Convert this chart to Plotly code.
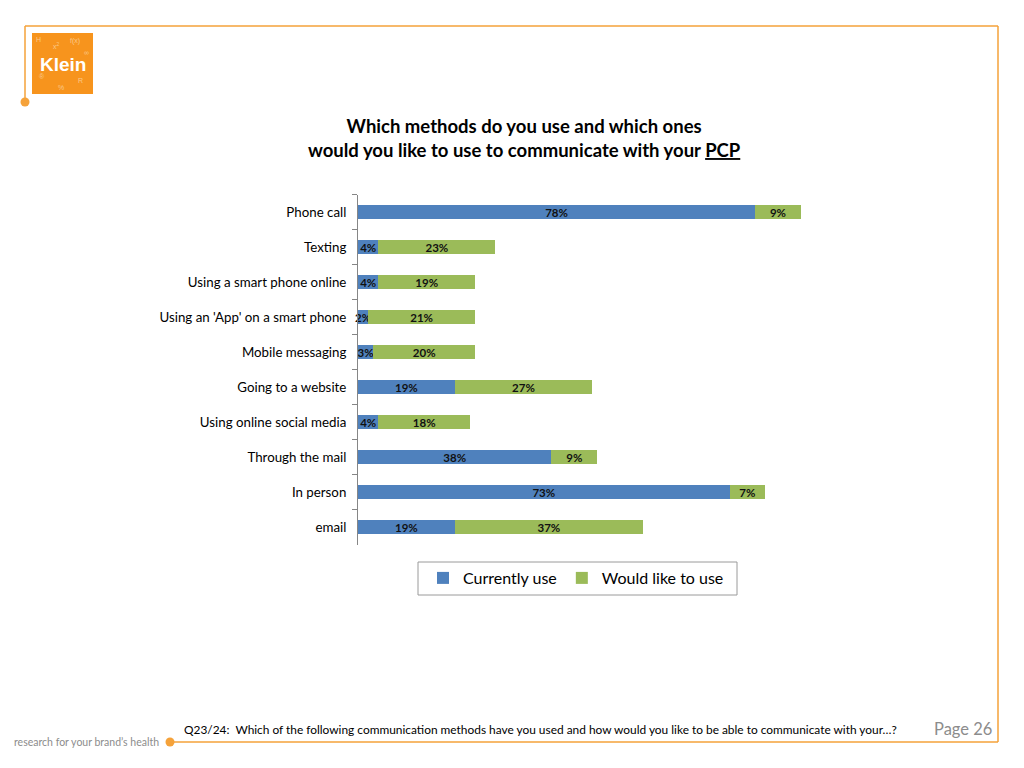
import plotly.graph_objects as go

# data
categories = ["Phone call", "Texting", "Using a smart phone online",
              "Using an 'App' on a smart phone", "Mobile messaging",
              "Going to a website", "Using online social media",
              "Through the mail", "In person", "email"]
currently_use = [78, 4, 4, 2, 3, 19, 4, 38, 73, 19]
would_like = [9, 23, 19, 21, 20, 27, 18, 9, 7, 37]

# the page body adds an 8px margin, so the figure is a bit smaller and offset
OFF = 8
W, H = 1024 - 2 * OFF, 768 - 2 * OFF
FONT = "Lato"
ORANGE = "#F5A23A"
BLUE = "#4F81BD"
GREEN = "#9BBB59"


def px(x):
    return (x - OFF) / W


def py(y):
    return 1 - (y - OFF) / H


fig = go.Figure()

for name, vals, col in [("Currently use", currently_use, BLUE),
                        ("Would like to use", would_like, GREEN)]:
    fig.add_trace(go.Bar(
        y=categories, x=vals, name=name, orientation="h",
        marker=dict(color=col, line=dict(width=0)),
        text=[f"{v}%" for v in vals],
        textposition="inside", insidetextanchor="middle",
        textangle=0, constraintext="none",
        textfont=dict(family=FONT, size=11.5, color="#111111", weight="bold"),
        cliponaxis=False, width=0.4,
    ))

P = dict(xref="paper", yref="paper")
shapes = [
    # page frame
    dict(type="line", x0=px(25), y0=py(26), x1=px(998), y1=py(26)),
    dict(type="line", x0=px(998), y0=py(26), x1=px(998), y1=py(742)),
    dict(type="line", x0=px(170), y0=py(742), x1=px(998), y1=py(742)),
    dict(type="line", x0=px(25), y0=py(26), x1=px(25), y1=py(102)),
]
for s in shapes:
    s["line"] = dict(color=ORANGE, width=1.5)
shapes += [
    # legend box
    dict(type="rect", x0=px(418), y0=py(562), x1=px(737), y1=py(595),
         line=dict(color="#9A9A9A", width=1), fillcolor="white", layer="below"),
    dict(type="circle", x0=px(20.5), y0=py(97.5), x1=px(29.5), y1=py(106.5),
         fillcolor=ORANGE, line=dict(width=0)),
    dict(type="circle", x0=px(165.5), y0=py(737.5), x1=px(174.5), y1=py(746.5),
         fillcolor=ORANGE, line=dict(width=0)),
    # logo square
    dict(type="rect", x0=px(32), y0=py(33), x1=px(93), y1=py(94),
         fillcolor="#F7941D", line=dict(width=0)),
]
for s in shapes:
    s.update(P)

annotations = [
    dict(x=px(524), y=py(138), text="<b>Which methods do you use and which ones<br>"
         "would you like to use to communicate with your "
         "<span style='text-decoration:underline'>PCP</span></b>",
         showarrow=False, font=dict(family=FONT, size=18.5, color="black"),
         xanchor="center", yanchor="middle"),
    dict(x=px(63), y=py(64), text="<b>Klein</b>", showarrow=False,
         font=dict(family="Liberation Sans", size=19, color="white"),
         xanchor="center", yanchor="middle"),
    dict(x=px(182), y=py(729), text="Q23/24:  Which of the following communication methods have you used "
         "and how would you like to be able to communicate with your\u2026?",
         showarrow=False, font=dict(family=FONT, size=11.9, color="black"),
         xanchor="left", yanchor="middle"),
    dict(x=px(994), y=py(729), text="Page 26", showarrow=False,
         font=dict(family=FONT, size=16.5, color="#8C8C8C"),
         xanchor="right", yanchor="middle"),
    dict(x=px(12), y=py(742), text="research for your brand\u2019s health", showarrow=False,
         font=dict(family=FONT, size=10.5, color="#8C8C8C"),
         xanchor="left", yanchor="middle"),
]
# faint glyphs on the logo
for gx, gy, gt in [(38, 40, "H"), (56, 46, "x<sup>2</sup>"), (75, 41, "f(x)"),
                   (86, 52, "\u221e"), (42, 76, "\u00ae"), (80, 81, "R"), (61, 87, "%")]:
    annotations.append(dict(x=px(gx), y=py(gy), text=gt, showarrow=False,
                            font=dict(family="Liberation Sans", size=7, color="#FBC98A"),
                            xanchor="center", yanchor="middle"))
for a in annotations:
    a.update(P)

fig.update_layout(
    width=W, height=H,
    margin=dict(l=0, r=0, t=0, b=0),
    paper_bgcolor="white", plot_bgcolor="white",
    barmode="stack",
    showlegend=True,
    legend=dict(orientation="h", x=px(576), y=py(578), xanchor="center", yanchor="middle",
                bgcolor="rgba(0,0,0,0)", borderwidth=0,
                font=dict(family=FONT, size=16, color="black"),
                traceorder="normal", itemwidth=30),
    xaxis=dict(domain=[px(358), px(867)], range=[0, 100], visible=False),
    yaxis=dict(domain=[py(544.5), py(194.5)], autorange="reversed",
               type="category", showline=True, linecolor="#868686", linewidth=1,
               ticks="outside", tickson="boundaries", ticklen=5, tickcolor="#868686",
               tickfont=dict(family=FONT, size=13.3, color="black"), ticklabelstandoff=8),
    shapes=shapes,
    annotations=annotations,
    font=dict(family=FONT),
)

fig.write_html("out.html")
